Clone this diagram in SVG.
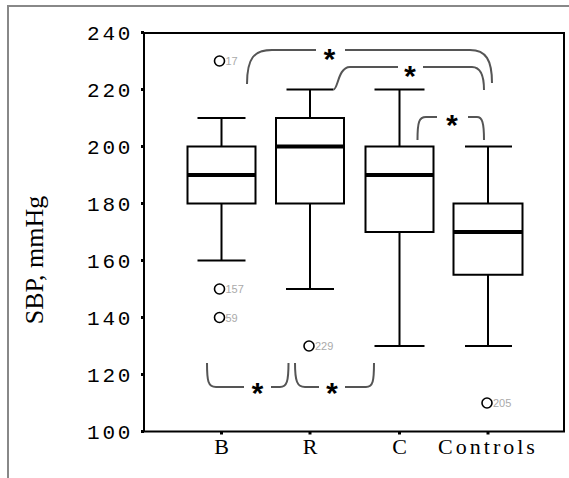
<svg xmlns="http://www.w3.org/2000/svg" width="569" height="478" viewBox="0 0 569 478">
<style>
.frame{fill:none;stroke:#888;stroke-width:2}
.axis{fill:none;stroke:#000;stroke-width:2}
.tick{stroke:#000;stroke-width:3}
.box{fill:#fff;stroke:#000;stroke-width:2}
.wh{fill:none;stroke:#000;stroke-width:2}
.med{stroke:#000;stroke-width:4}
.out{fill:#fff;stroke:#000;stroke-width:1.6}
.olab{font-family:"Liberation Sans",sans-serif;font-size:11px;fill:#aaa}
.tl{font-family:"Liberation Mono",monospace;font-size:21px;letter-spacing:2.8px;fill:#000}
.cl{font-family:"Liberation Serif",serif;font-size:22px;letter-spacing:3px;fill:#000;text-anchor:middle}
.br{fill:none;stroke:#555;stroke-width:2}
.star{font-family:"Liberation Mono",monospace;font-size:30px;font-weight:bold;fill:#000;text-anchor:middle}
</style>
<rect x="0" y="0" width="569" height="478" fill="#fff"/>
<path class="frame" d="M8 478 V6 H569"/>
<g id="axes">
<rect class="axis" x="144" y="33" width="420" height="398.5"/>
<g>
<line class="tick" x1="141" y1="32.5" x2="144" y2="32.5"/>
<line class="tick" x1="141" y1="89.5" x2="144" y2="89.5"/>
<line class="tick" x1="141" y1="146.5" x2="144" y2="146.5"/>
<line class="tick" x1="141" y1="203.5" x2="144" y2="203.5"/>
<line class="tick" x1="141" y1="260.5" x2="144" y2="260.5"/>
<line class="tick" x1="141" y1="317.5" x2="144" y2="317.5"/>
<line class="tick" x1="141" y1="374.5" x2="144" y2="374.5"/>
<line class="tick" x1="141" y1="431.5" x2="144" y2="431.5"/>
<line class="tick" x1="221.5" y1="431" x2="221.5" y2="434.5"/>
<line class="tick" x1="310" y1="431" x2="310" y2="434.5"/>
<line class="tick" x1="399.5" y1="431" x2="399.5" y2="434.5"/>
<line class="tick" x1="488" y1="431" x2="488" y2="434.5"/>
</g>
<g>
<text class="tl" x="87" y="39.5">240</text>
<text class="tl" x="87" y="96.5">220</text>
<text class="tl" x="87" y="153.5">200</text>
<text class="tl" x="87" y="210.5">180</text>
<text class="tl" x="87" y="267.5">160</text>
<text class="tl" x="87" y="324.5">140</text>
<text class="tl" x="87" y="381.5">120</text>
<text class="tl" x="87" y="438.5">100</text>
</g>
<g>
<text class="cl" x="223" y="454">B</text>
<text class="cl" x="311.5" y="454">R</text>
<text class="cl" x="401" y="454">C</text>
<text class="cl" x="488" y="454">Controls</text>
</g>
<text transform="translate(43,260) rotate(-90)" text-anchor="middle" font-family="Liberation Serif, serif" font-size="26" fill="#000">SBP, mmHg</text>
</g>
<g id="box-B">
<path class="wh" d="M221.5 146.5 V118 M197.5 118 H245.5 M221.5 203.5 V260.5 M197.5 260.5 H245.5"/>
<rect class="box" x="187.5" y="146.5" width="68" height="57"/>
<line class="med" x1="187.5" y1="175" x2="255.5" y2="175"/>
<circle class="out" cx="219.5" cy="61" r="5"/>
<text class="olab" x="225.5" y="65">17</text>
<circle class="out" cx="219.5" cy="289" r="5"/>
<text class="olab" x="225.5" y="293">157</text>
<circle class="out" cx="219.5" cy="317.5" r="5"/>
<text class="olab" x="225.5" y="321.5">59</text>
</g>
<g id="box-R">
<path class="wh" d="M310 118 V89.5 M286.5 89.5 H333.5 M310 203.5 V289 M286 289 H334"/>
<rect class="box" x="276" y="118" width="68" height="85.5"/>
<line class="med" x1="276" y1="146.5" x2="344" y2="146.5"/>
<circle class="out" cx="309" cy="346" r="5"/>
<text class="olab" x="315" y="350">229</text>
</g>
<g id="box-C">
<path class="wh" d="M399.5 146.5 V89.5 M374.5 89.5 H424.5 M399.5 232 V346 M374.5 346 H424.5"/>
<rect class="box" x="365.5" y="146.5" width="68" height="85.5"/>
<line class="med" x1="365.5" y1="175" x2="433.5" y2="175"/>
</g>
<g id="box-Controls">
<path class="wh" d="M488 203.5 V146.5 M465 146.5 H512 M488 274.75 V346 M465 346 H512"/>
<rect class="box" x="453.5" y="203.5" width="69" height="71.25"/>
<line class="med" x1="453.5" y1="232" x2="522.5" y2="232"/>
<circle class="out" cx="487" cy="403" r="5"/>
<text class="olab" x="493" y="407">205</text>
</g>
<g id="connectors">
<path class="br" d="M247 84 C247 58 254 50 272 50 H316 M345 50 H470 C486 50 492 60 492 83"/>
<path class="br" d="M333.5 89.5 C338 89.5 338 67 350 67 H398 M423 67 H472 C481 67 484 76 484 90"/>
<path class="br" d="M417.5 140 C417.5 122 419 117 426 117 H437 M468 117 H477 C482 117 484 122 484 140"/>
<path class="br" d="M207 363 C207 381 208 387 216 387 H244 M271 387 H280 C287 387 288.5 381 288.5 363"/>
<path class="br" d="M295 363 C295 381 297 387 305 387 H319 M345 387 H366 C373 387 374 381 374 363"/>
<text class="star" x="329.5" y="71">*</text>
<text class="star" x="410" y="88">*</text>
<text class="star" x="452" y="136.5">*</text>
<text class="star" x="257.5" y="405">*</text>
<text class="star" x="332" y="405">*</text>
</g>
</svg>
